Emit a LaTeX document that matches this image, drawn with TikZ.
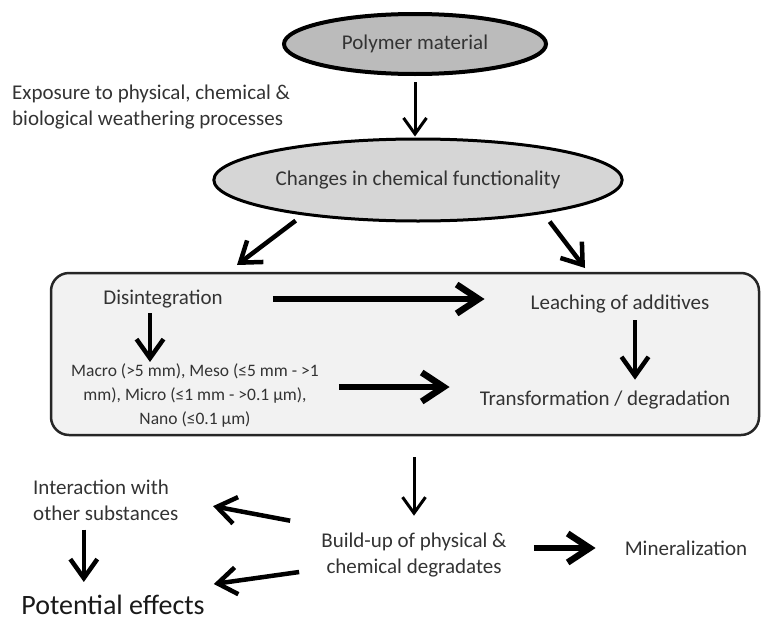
\documentclass[tikz,border=0pt]{standalone}
\usepackage{fontspec}
\setmainfont{Carlito}
\usetikzlibrary{arrows.meta,shapes.geometric}

\definecolor{polyfill}{HTML}{BBBBBB}
\definecolor{chgfill}{HTML}{D6D6D6}
\definecolor{stagefill}{HTML}{F2F2F2}
\definecolor{ink}{HTML}{333333}

\tikzset{
  txt/.style={text=ink, inner sep=2pt, font=\fontsize{21}{26}\selectfont},
  sizes/.style={text=ink, inner sep=2pt, align=center, font=\fontsize{17.5}{24}\selectfont},
  oval/.style={ellipse, draw=black, inner sep=0pt},
  arr/.style={line width=3pt, -{Straight Barb[length=16pt,width=23pt]}},
  arrm/.style={line width=4.5pt, -{Straight Barb[length=19pt,width=27pt]}},
  arrk/.style={line width=6.5pt, -{Straight Barb[length=22pt,width=29pt]}},
}

\begin{document}
\begin{tikzpicture}[x=1pt,y=1pt]
\useasboundingbox (0,0) rectangle (762,-621);
% grey panel behind the four processes
\node[draw=black!85, line width=2.5pt, fill=stagefill, rounded corners=18pt,
      minimum width=708pt, minimum height=162pt] (stage) at (405,-354) {};

\node[oval, fill=polyfill, line width=4pt, minimum width=262pt, minimum height=60pt, txt] (poly) at (415,-44) {Polymer material};
\node[txt, anchor=west, align=left] (expo) at (10,-107.5) {Exposure to physical, chemical \&\\biological weathering processes};
\node[oval, fill=chgfill, line width=3pt, minimum width=408pt, minimum height=82pt, txt] (change) at (418,-180) {Changes in chemical functionality};

\node[txt] (disint) at (163,-299) {Disintegration};
\node[txt] (leach) at (620,-304) {Leaching of additives};
\node[sizes] (macro) at (195,-396) {Macro (>5 mm), Meso (≤5 mm - >1\\mm), Micro (≤1 mm - >0.1 µm),\\Nano (≤0.1 µm)};
\node[txt] (trans) at (605,-400) {Transformation / degradation};

\node[txt, align=center] (build) at (414,-555) {Build-up of physical \&\\chemical degradates};
\node[txt] (miner) at (686,-548) {Mineralization};
\node[txt, anchor=west, align=left] (inter) at (31,-500) {Interaction with\\other substances};
\node[txt, text=black!90, font=\fontsize{28}{33}\selectfont] (effects) at (113,-605) {Potential effects};

\coordinate (tipL) at (237,-265);
\coordinate (tipR) at (585,-268);

\draw[arr, shorten <=6pt, shorten >=1pt] (poly.south) -- (poly.south |- change.north);
\draw[arrm, shorten <=9pt] (change.197) -- (tipL);
\draw[arrm, shorten <=10pt] (change.-15) -- (tipR);

\draw[arrk, shorten <=48pt, shorten >=44pt] (disint.east) -- (disint.east -| leach.west);
\draw[arrm, shorten <=3pt] ([xshift=-13pt]disint.south) -- ([xshift=-13pt]disint.south |- macro.north);
\draw[arrm, shorten <=5pt, shorten >=9pt] ([xshift=15pt]leach.south) -- ([xshift=15pt]leach.south |- trans.north);
\draw[arrk, shorten <=18pt, shorten >=28pt] ([yshift=9pt]macro.east) -- ([yshift=9pt]macro.east -| trans.west);

\draw[arr, shorten <=21pt, shorten >=15pt] (stage.south -| build.north) -- (build.north);
\draw[arrm, shorten >=33pt] ([shift={(-29,10)}]build.north west) -- (inter.east);
\draw[arrm, shorten >=7pt] ([shift={(-20,-17)}]build.west) -- ([yshift=8pt]effects.north east);
\draw[arrk, shorten <=25pt, shorten >=27pt] (build.east |- miner.west) -- (miner.west);
\draw[arrm, shorten <=7pt, shorten >=11pt] ([xshift=-22pt]inter.south) -- ([xshift=-22pt]inter.south |- effects.north);
\end{tikzpicture}
\end{document}
